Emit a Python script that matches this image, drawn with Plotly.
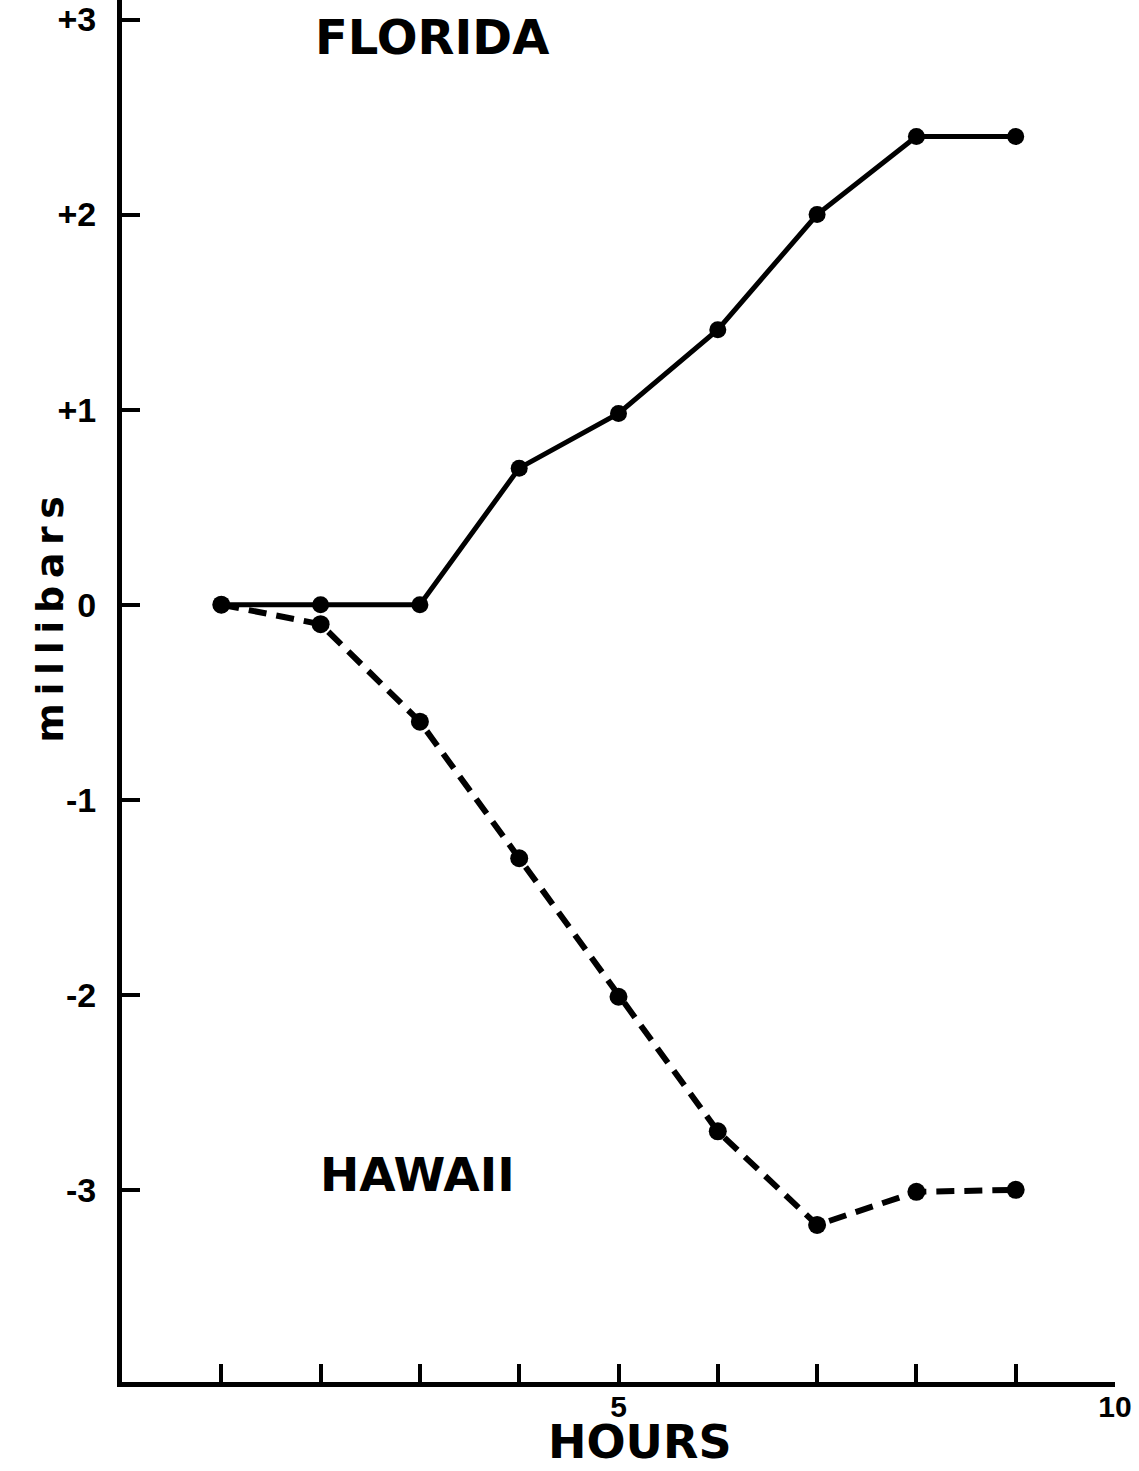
import plotly.graph_objects as go

hours = [1, 2, 3, 4, 5, 6, 7, 8, 9]
florida = [0.0, 0.0, 0.0, 0.7, 0.98, 1.41, 2.0, 2.4, 2.4]
hawaii = [0.0, -0.1, -0.6, -1.3, -2.01, -2.7, -3.18, -3.01, -3.0]

y_tickvals = [3, 2, 1, 0, -1, -2, -3]
y_ticktext = ["+3", "+2", "+1", "0", "-1", "-2", "-3"]
x_tickvals = [1, 2, 3, 4, 5, 6, 7, 8, 9, 10]
x_ticktext = ["", "", "", "", "5", "", "", "", "", "10"]

BIG = "DejaVu Sans"
TICK = "Liberation Sans"

fig = go.Figure()
fig.add_trace(go.Scatter(
    x=hours, y=hawaii, mode="lines+markers",
    line=dict(color="black", width=6, dash="18px,10px"),
    marker=dict(color="black", size=18),
    showlegend=False, hoverinfo="skip"))
fig.add_trace(go.Scatter(
    x=hours, y=florida, mode="lines+markers",
    line=dict(color="black", width=5),
    marker=dict(color="black", size=17),
    showlegend=False, hoverinfo="skip"))

fig.update_layout(
    width=1139, height=1471,
    margin=dict(l=122, r=24, t=0, b=89),
    paper_bgcolor="white", plot_bgcolor="white",
    xaxis=dict(range=[0, 10], showgrid=False, zeroline=False, automargin=False,
               showline=True, linecolor="black", linewidth=5,
               ticks="inside", ticklen=18, tickwidth=4, tickcolor="black",
               tickvals=x_tickvals, ticktext=x_ticktext,
               ticklabeloverflow="allow", ticklabelstandoff=-6,
               tickfont=dict(family=TICK, size=30, color="black", weight="bold")),
    yaxis=dict(range=[-3.985, 3.10], showgrid=False, zeroline=False, automargin=False,
               showline=True, linecolor="black", linewidth=5,
               ticks="inside", ticklen=18, tickwidth=4, tickcolor="black",
               tickvals=y_tickvals, ticktext=y_ticktext,
               ticklabelstandoff=14, ticklabeloverflow="allow",
               tickfont=dict(family=TICK, size=34, color="black", weight="bold")),
    annotations=[
        dict(text="<b>FLORIDA</b>", x=3.12, y=2.91, xref="x", yref="y",
             showarrow=False, font=dict(family=BIG, size=48, color="black")),
        dict(text="<b>HAWAII</b>", x=2.98, y=-2.92, xref="x", yref="y",
             showarrow=False, font=dict(family=BIG, size=47, color="black")),
        dict(text="<b>HOURS</b>", x=5.22, y=0, xref="x", yref="paper",
             yanchor="bottom", yshift=-89,
             showarrow=False, font=dict(family=BIG, size=46, color="black")),
        dict(text="<b>m\u2009i\u2009l\u2009l\u2009i\u2009b\u2009a\u2009r\u2009s</b>",
             x=0, xref="paper", xshift=-72, xanchor="center",
             y=-0.077, yref="y", yanchor="middle", textangle=-90,
             showarrow=False, font=dict(family=BIG, size=38, color="black")),
    ],
)

fig.write_html("out.html", config={"displayModeBar": False},
               post_script="document.body.style.margin='0';")
